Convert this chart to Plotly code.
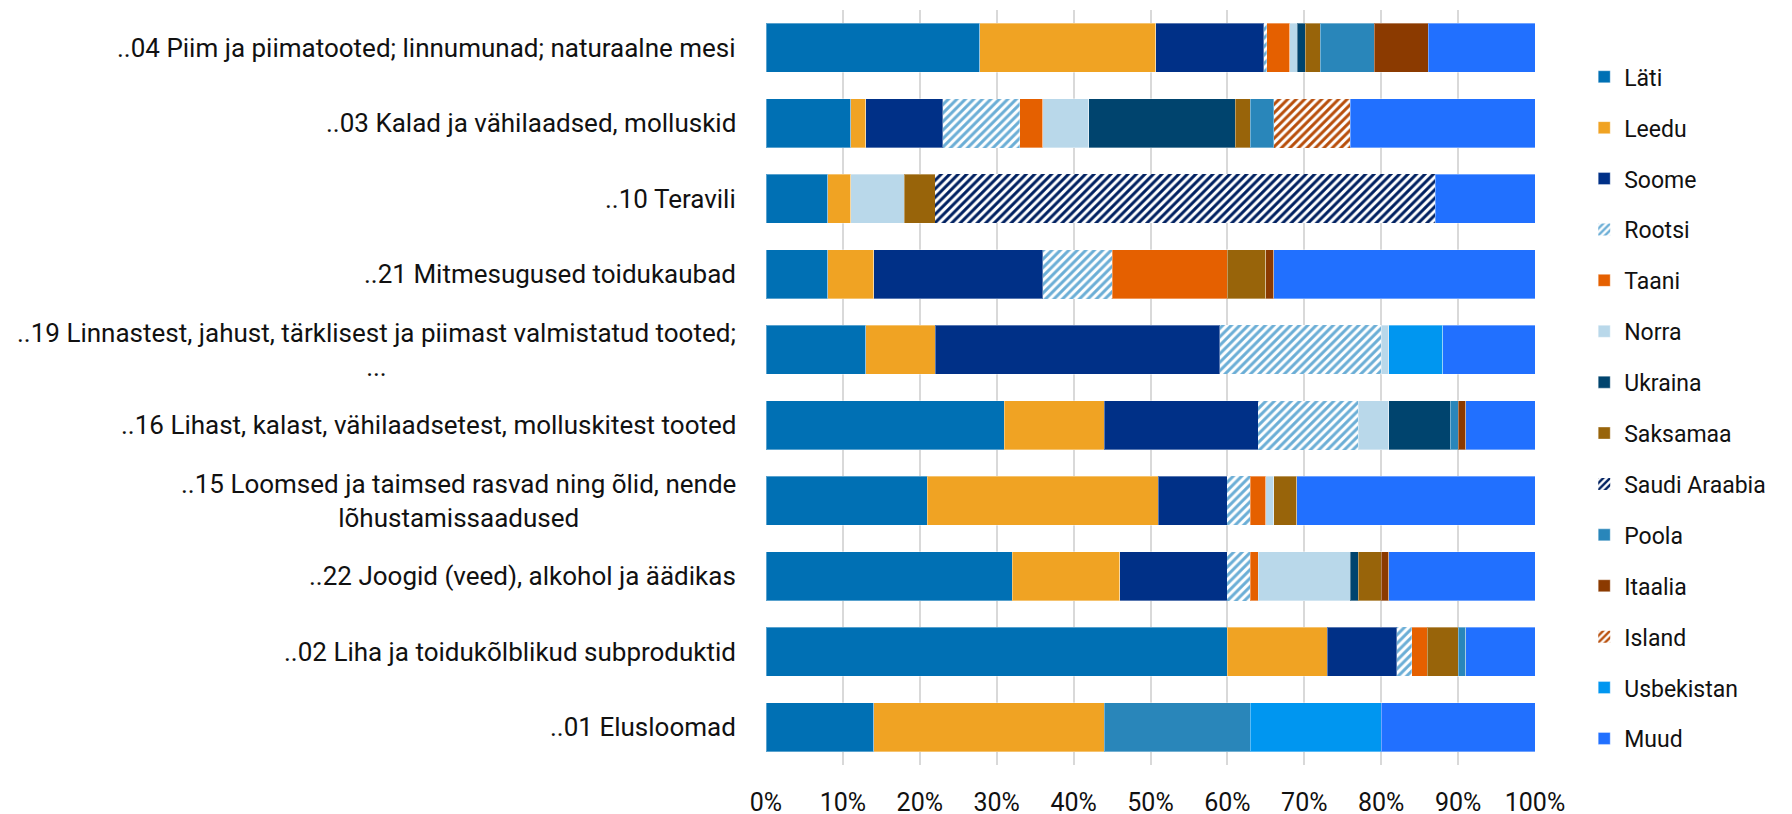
import plotly.graph_objects as go

kategooriad = [
    "..04 Piim ja piimatooted; linnumunad; naturaalne mesi",
    "..03 Kalad ja vähilaadsed, molluskid",
    "..10 Teravili",
    "..21 Mitmesugused toidukaubad",
    "..19 Linnastest, jahust, tärklisest ja piimast valmistatud tooted;<br>...",
    "..16 Lihast, kalast, vähilaadsetest, molluskitest tooted",
    "..15 Loomsed ja taimsed rasvad ning õlid, nende<br>lõhustamissaadused",
    "..22 Joogid (veed), alkohol ja äädikas",
    "..02 Liha ja toidukõlblikud subproduktid",
    "..01 Elusloomad",
]

# osakaalud protsentides, kategooriate järjekorras
lati = [27.8, 11, 8, 8, 13, 31, 21, 32, 60, 14]
leedu = [22.9, 2, 3, 6, 9, 13, 30, 14, 13, 30]
soome = [14, 10, None, 22, 37, 20, 9, 14, 9, None]
rootsi = [0.4, 10, None, 9, 21, 13, 3, 3, 2, None]
taani = [3, 3, None, 15, None, None, 2, 1, 2, None]
norra = [1, 6, 7, None, 1, 4, 1, 12, None, None]
ukraina = [1, 19, None, None, None, 8, None, 1, None, None]
saksamaa = [2, 2, 4, 5, None, None, 3, 3, 4, None]
saudi = [None, None, 65, None, None, None, None, None, None, None]
poola = [7, 3, None, None, None, 1, None, None, 1, 19]
itaalia = [7, None, None, 1, None, 1, None, 1, None, None]
island = [None, 10, None, None, None, None, None, None, None, None]
usbekistan = [None, None, None, None, 7, None, None, None, None, 17]
muud = [13.9, 24, 13, 34, 12, 9, 31, 19, 9, 20]

riigid = [
    ("Läti", lati, "#0070B4", None),
    ("Leedu", leedu, "#F0A323", None),
    ("Soome", soome, "#003087", None),
    ("Rootsi", rootsi, "#6BAED6", "/"),
    ("Taani", taani, "#E56000", None),
    ("Norra", norra, "#B9D8EA", None),
    ("Ukraina", ukraina, "#00446E", None),
    ("Saksamaa", saksamaa, "#98640A", None),
    ("Saudi Araabia", saudi, "#002060", "/"),
    ("Poola", poola, "#2986BA", None),
    ("Itaalia", itaalia, "#8B3A00", None),
    ("Island", island, "#B84E0B", "/"),
    ("Usbekistan", usbekistan, "#0096F0", None),
    ("Muud", muud, "#2170FF", None),
]

fig = go.Figure()
for nimi, vaartused, varv, muster in riigid:
    if muster:
        marker = dict(color="white",
                      pattern=dict(shape=muster, fgcolor=varv, bgcolor="white",
                                   size=6, solidity=0.5, fillmode="replace"),
                      line=dict(width=0))
    else:
        marker = dict(color=varv, line=dict(width=1, color="rgba(255,255,255,0.35)"))
    fig.add_trace(go.Bar(
        name=nimi,
        y=kategooriad,
        x=vaartused,
        orientation="h",
        marker=marker,
        legendgroup=nimi,
    ))

for k in kategooriad:
    fig.add_annotation(
        text=k, x=0, y=k, xref="paper", yref="y",
        xanchor="right", yanchor="middle", align="center",
        xshift=-28, showarrow=False,
        font=dict(family="Roboto", size=26, color="#111111"),
    )

fig.update_layout(
    barmode="stack",
    bargap=0.35,
    width=1792,
    height=814,
    margin=dict(l=758, r=265, t=2, b=57),
    plot_bgcolor="white",
    paper_bgcolor="white",
    font=dict(family="Roboto", size=25, color="#111111"),
    legend=dict(
        x=1.064, y=0.94, xanchor="left", yanchor="top",
        traceorder="grouped", tracegroupgap=18,
        font=dict(family="Roboto", size=23, color="#111111"),
    ),
    xaxis=dict(
        range=[0, 100], tickmode="linear", tick0=0, dtick=10, ticksuffix="%",
        showgrid=True, gridcolor="#D9D9D9", gridwidth=2, zeroline=False,
        ticks="outside", ticklen=15, tickcolor="rgba(0,0,0,0)",
        tickfont=dict(family="Roboto", size=25, color="#111111"),
    ),
    yaxis=dict(
        autorange="reversed", showticklabels=False, showgrid=False,
        categoryorder="array", categoryarray=kategooriad,
    ),
)

fig.write_html("out.html")
